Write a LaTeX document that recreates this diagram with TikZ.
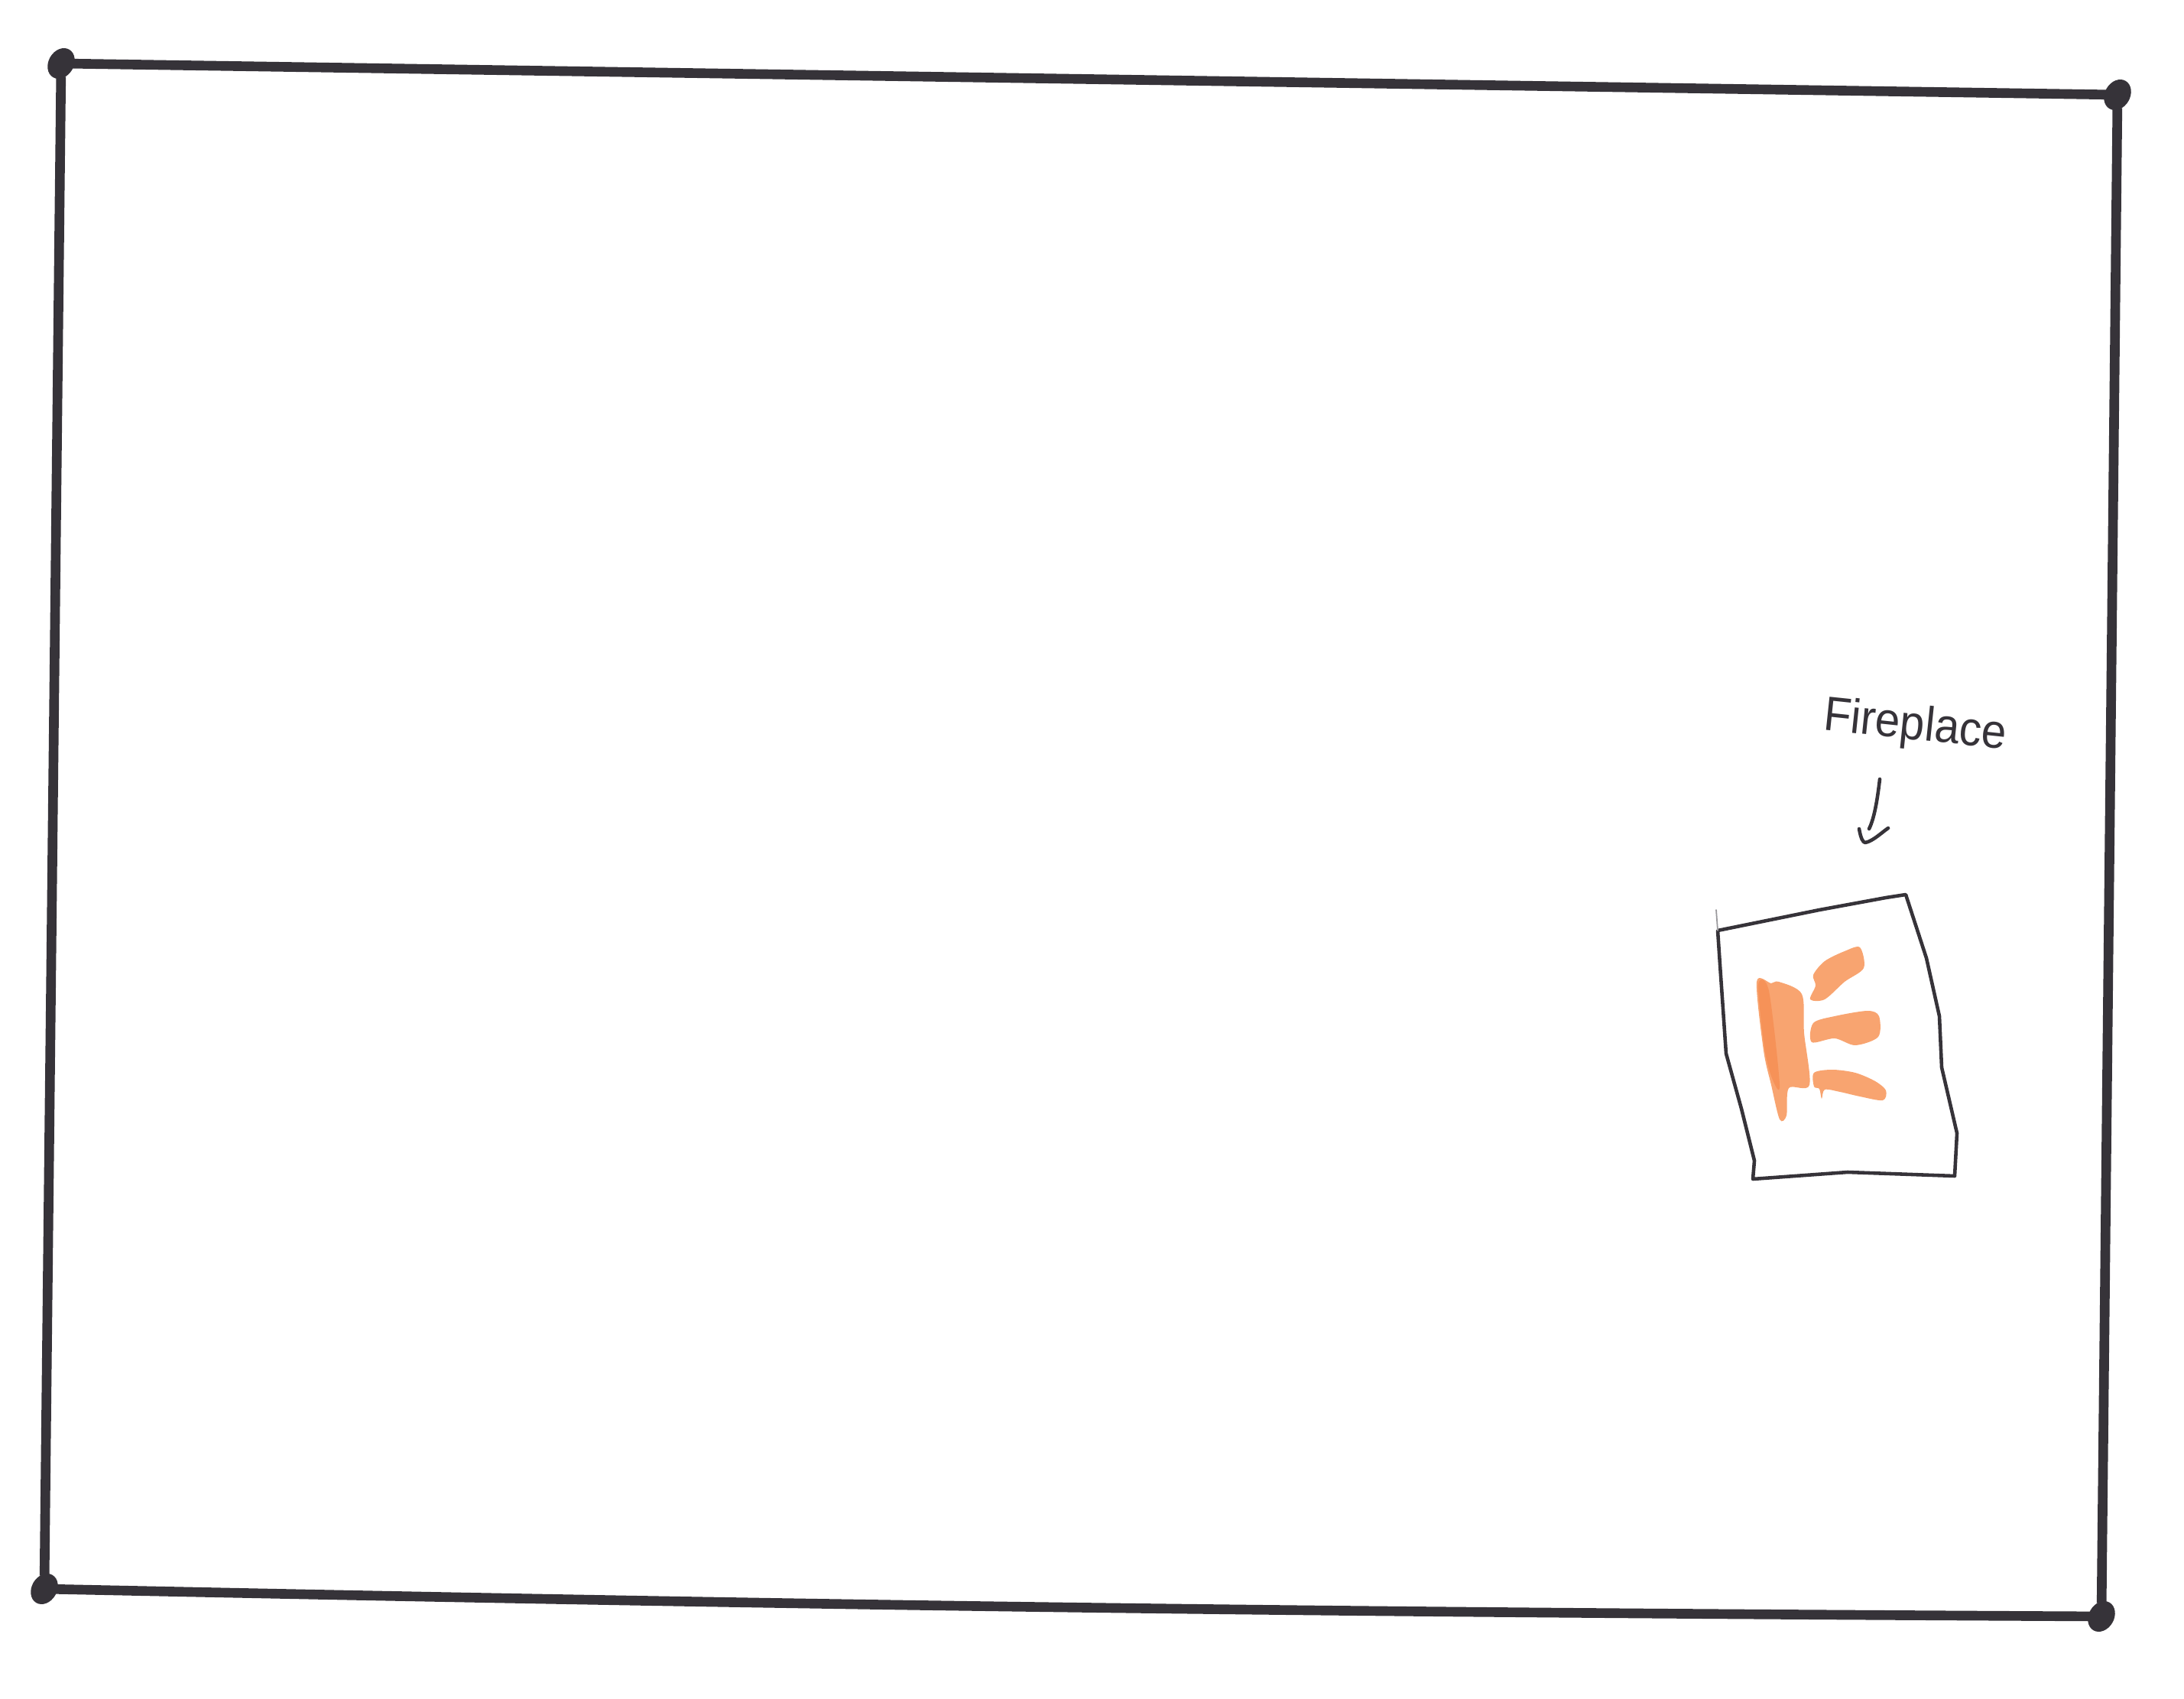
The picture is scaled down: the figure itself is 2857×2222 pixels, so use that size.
\documentclass[tikz,border=0pt]{standalone}
\usepackage{fontspec}
\setmainfont{Liberation Sans}
\usetikzlibrary{shapes.geometric}
\definecolor{penink}{RGB}{54,51,57}
\definecolor{crayon}{RGB}{248,164,112}
\definecolor{crayondark}{RGB}{246,146,88}
\tikzset{
  corner/.style={ellipse,fill=penink,inner sep=0pt,minimum width=0.42cm,minimum height=0.33cm,rotate=60},
  wall/.style={draw=penink,line width=3.6pt,shorten <=-0.03cm,shorten >=-0.03cm},
  pen/.style={draw=penink,line width=1.3pt,line join=round,line cap=round},
  flame/.style={fill=crayon,draw=none}
}
\begin{document}
\begin{tikzpicture}[x=0.01cm,y=-0.01cm]
      \useasboundingbox (0,0) rectangle (2857,2222);
      \node[corner] (tl) at (80,83) {};
      \node[corner] (tr) at (2770,124) {};
      \node[corner] (br) at (2749,2114) {};
      \node[corner] (bl) at (58,2078) {};
      \begin{scope}[wall]
        \draw (tl) to (tr);
        \draw (tr) to (br);
        \draw (bl) to[bend right=0.45] (br);
        \draw (bl) to (tl);
      \end{scope}
      % fireplace outline
      \draw[pen] (2247,1217) -- (2380,1190) -- (2467,1174) -- (2493,1170)
        -- (2520,1253) -- (2537,1329) -- (2540,1396) -- (2560,1482) -- (2557,1538)
        -- (2417,1533) -- (2293,1542) -- (2295,1518) -- (2278,1450) -- (2258,1378)
        -- (2250,1262) -- cycle;
      \draw[pen,line width=0.5pt,draw=penink!50] (2247,1217) -- (2245,1190);
      % flames
      \fill[flame] plot[smooth cycle] coordinates {(2298,1284) (2317,1286) (2327,1284) (2357,1300)
        (2360,1351) (2367,1419) (2340,1423) (2337,1459) (2328,1464) (2317,1419) (2307,1374)};
      \fill[crayondark] plot[smooth cycle] coordinates {(2300,1288) (2314,1296) (2328,1419) (2318,1410) (2308,1370)};
      \fill[flame] plot[smooth cycle] coordinates {(2372,1275) (2387,1257) (2413,1244) (2433,1239)
        (2438,1266) (2413,1284) (2387,1307) (2368,1307) (2375,1289)};
      \fill[flame] plot[smooth cycle] coordinates {(2372,1338) (2400,1329) (2443,1322) (2458,1329)
        (2457,1356) (2427,1367) (2400,1358) (2370,1363)};
      \fill[flame] plot[smooth cycle] coordinates {(2373,1403) (2397,1399) (2427,1403) (2453,1414)
        (2467,1426) (2463,1439) (2433,1434) (2407,1428) (2387,1425) (2383,1437) (2380,1424) (2373,1421)};
      % label and arrow
      \node[rotate=-6,xscale=0.92,text=penink,font=\fontsize{18}{20}\selectfont] (lbl) at (2505,951) {Fireplace};
      \coordinate (tail) at (2459,1019);
      \coordinate (tip) at (2440,1102);
      \draw[pen] (tail) .. controls (2456,1045) and (2452,1070) .. (2445,1084);
      \draw[pen] (2432,1084) .. controls (2434,1096) and (2437,1102) .. (tip) .. controls (2450,1100) and (2460,1090) .. (2470,1083);
    \end{tikzpicture}
\end{document}
